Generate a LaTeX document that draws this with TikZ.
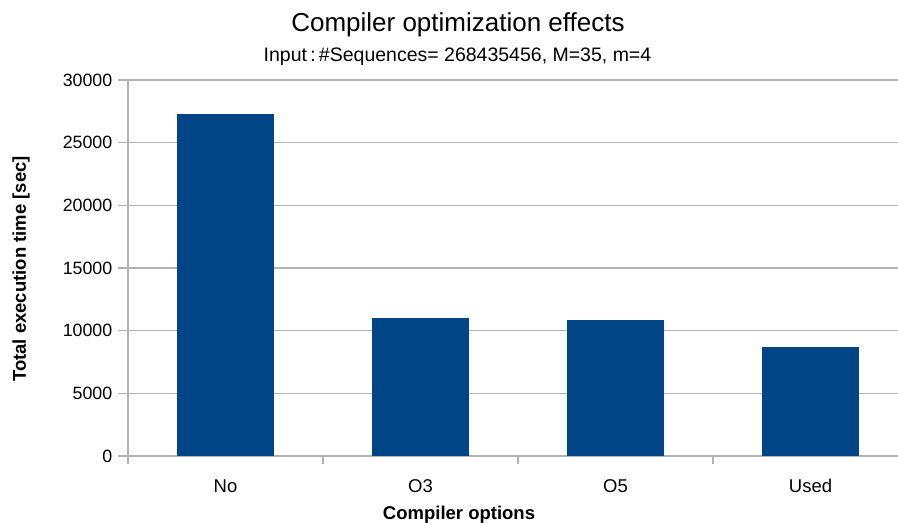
\documentclass[tikz,border=0pt]{standalone}
\usepackage{fontspec}
\setmainfont{Liberation Sans}
\definecolor{barblue}{HTML}{004586}
\definecolor{gridgray}{HTML}{B3B3B3}
\begin{document}
\begin{tikzpicture}[x=1pt,y=-1pt,
  grid/.style={draw=gridgray,line width=1.2pt},
  bar/.style={fill=barblue,draw=none},
  ticklabel/.style={font=\fontsize{17.8}{20}\selectfont,inner sep=0pt},
  catlabel/.style={font=\fontsize{18.5}{22}\selectfont,inner sep=0pt,anchor=base},
  axistitle/.style={font=\fontsize{18.5}{22}\selectfont\bfseries,inner sep=0pt,anchor=base},
]
\useasboundingbox[fill=white] (0,0) rectangle (898,523);

% value axis: 0 at y=456, one thousand per 12.5333 units
% horizontal gridlines with their left ticks and labels
\foreach \k [count=\i] in {0,5,10,15,20,25,30}{
  \pgfmathsetmacro{\yy}{456-\k*12.5333}
  \draw[grid] (118,\yy) -- (898,\yy);
  \node[ticklabel,anchor=east] (yl\i) at (112.5,\yy) {\number\numexpr\k*1000\relax};
}
% vertical axis line, extended down to the first category tick
\draw[grid] (128,80) -- (128,464);
% category ticks
\foreach \k in {1,2,3}{
  \draw[grid] (128+\k*195,456) -- (128+\k*195,464);
}

% bars (heights in thousands of seconds)
\foreach \val/\name [count=\i from 0] in {27.287/No,11.011/O3,10.851/O5,8.697/Used}{
  \pgfmathsetmacro{\cx}{128+195*(\i+0.5)}
  \pgfmathsetmacro{\bartop}{456-\val*12.5333}
  \fill[bar] (\cx-48.75,\bartop) rectangle (\cx+48.75,456);
  \node[catlabel] (cat\i) at (\cx,492) {\name};
}

% titles
\node[inner sep=0pt,anchor=base,font=\fontsize{26}{30}\selectfont] (title) at (458,31.5) {Compiler optimization effects};
\node[inner sep=0pt,anchor=base,font=\fontsize{19.5}{23}\selectfont] (subtitle) at (457.5,61) {Input\,:\,\#Sequences= 268435456, M=35, m=4};
\node[axistitle] (xtitle) at (459,519) {Compiler options};
\node[axistitle,rotate=90] (ytitle) at (26,269) {Total execution time [sec]};
\end{tikzpicture}
\end{document}
